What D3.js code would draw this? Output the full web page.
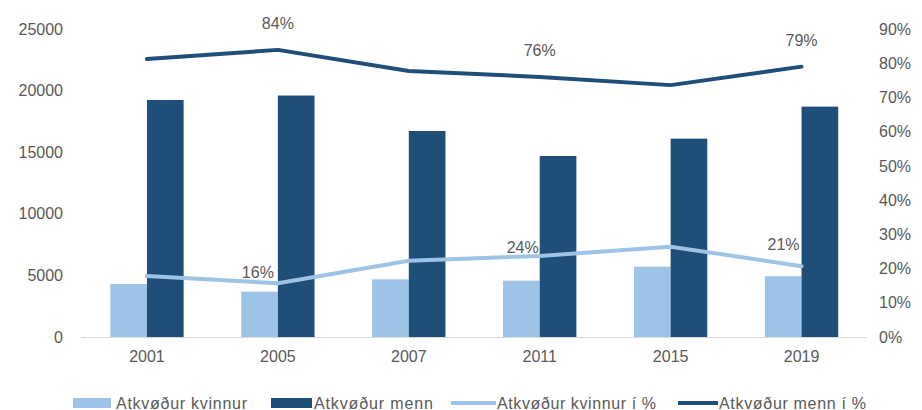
<!DOCTYPE html>
<html><head><meta charset="utf-8">
<script src="https://cdn.jsdelivr.net/npm/d3@7"></script>
<style>
body{margin:0;background:#fff;}
text{font-family:"Liberation Sans",Arial,sans-serif;fill:#595959;}
</style></head>
<body><svg id="c" width="922" height="410"></svg>
<script>
const years = ["2001","2005","2007","2011","2015","2019"];
const womenVotes = [4300, 3680, 4680, 4570, 5710, 4930];
const menVotes = [19240, 19600, 16720, 14690, 16100, 18700];
const womenPct = [0.178, 0.157, 0.223, 0.237, 0.264, 0.207];
const menPct = [0.812, 0.839, 0.777, 0.760, 0.736, 0.790];
const womenPctLabels = ["", "16%", "", "24%", "", "21%"];
const menPctLabels = ["", "84%", "", "76%", "", "79%"];
const leftTicks = [0, 5000, 10000, 15000, 20000, 25000];
const rightTicks = [0,0.1,0.2,0.3,0.4,0.5,0.6,0.7,0.8,0.9];
const seriesNames = ["Atkvøður kvinnur","Atkvøður menn","Atkvøður kvinnur í %","Atkvøður menn í %"];

const light = "#9dc3e6", dark = "#1f4e79";
const svg = d3.select("#c");
const x = d3.scaleBand().domain(years).range([81.5, 867]).padding(0);
const yL = d3.scaleLinear().domain([0, 25000]).range([337, 29]);
const yR = d3.scaleLinear().domain([0, 0.9]).range([337, 29]);
const bw = x.bandwidth() * 0.28;
const cx = d => x(d) + x.bandwidth() / 2;

// left axis labels
const axL = d3.axisLeft(yL).tickValues(leftTicks).tickSize(0).tickPadding(0).tickFormat(d3.format("d"));
const gL = svg.append("g").attr("transform","translate(63,0)").call(axL);
gL.select(".domain").remove();
gL.selectAll("text").attr("font-size",16).attr("font-family",null).attr("fill","#595959");

// right axis labels
const axR = d3.axisRight(yR).tickValues(rightTicks).tickSize(0).tickPadding(0).tickFormat(d3.format(".0%"));
const gR = svg.append("g").attr("transform","translate(879,0)").call(axR);
gR.select(".domain").remove();
gR.selectAll("text").attr("font-size",16).attr("font-family",null).attr("fill","#595959");

// bars
svg.append("g").selectAll("rect").data(years).join("rect")
  .attr("x", d => cx(d) - bw).attr("width", bw)
  .attr("y", (d,i) => yL(womenVotes[i])).attr("height", (d,i) => yL(0) - yL(womenVotes[i]))
  .attr("fill", light);
svg.append("g").selectAll("rect").data(years).join("rect")
  .attr("x", d => cx(d)).attr("width", bw)
  .attr("y", (d,i) => yL(menVotes[i])).attr("height", (d,i) => yL(0) - yL(menVotes[i]))
  .attr("fill", dark);

// bottom axis
const axB = d3.axisBottom(x).tickSize(0).tickPadding(14);
const gB = svg.append("g").attr("transform","translate(0,337)").call(axB);
gB.select(".domain").attr("stroke","#d9d9d9").attr("stroke-width",1).attr("d","M81.5,0.5H867");
gB.selectAll("text").attr("font-size",16).attr("font-family",null).attr("fill","#595959");

// lines
const line = (arr) => d3.line().x((d,i) => cx(years[i])).y(d => yR(d))(arr);
svg.append("path").attr("d", line(womenPct)).attr("fill","none").attr("stroke",light)
  .attr("stroke-width",4).attr("stroke-linejoin","round").attr("stroke-linecap","round");
svg.append("path").attr("d", line(menPct)).attr("fill","none").attr("stroke",dark)
  .attr("stroke-width",4).attr("stroke-linejoin","round").attr("stroke-linecap","round");

// data labels
const menOff = {dx:0, dy:-21};
const womenOff = [null,{dx:-20,dy:-5},null,{dx:-17,dy:-3},null,{dx:-18,dy:-16}];
svg.append("g").selectAll("text").data(years).join("text")
  .attr("x", d => cx(d) + menOff.dx).attr("y", (d,i) => yR(menPct[i]) + menOff.dy)
  .attr("text-anchor","middle").attr("font-size",16).text((d,i) => menPctLabels[i]);
svg.append("g").selectAll("text").data(years).join("text")
  .attr("x", (d,i) => cx(d) + (womenOff[i] ? womenOff[i].dx : 0))
  .attr("y", (d,i) => yR(womenPct[i]) + (womenOff[i] ? womenOff[i].dy : 0))
  .attr("text-anchor","middle").attr("font-size",16).text((d,i) => womenPctLabels[i]);

// legend
const lg = svg.append("g");
const items = [
  {type:"rect", color:light, x0:73, x1:111, tx:116, w:131},
  {type:"rect", color:dark, x0:271, x1:312, tx:314, w:119},
  {type:"line", color:light, x0:451, x1:496, tx:497, w:159},
  {type:"line", color:dark, x0:678, x1:718, tx:719, w:147}
];
items.forEach((it,i) => {
  if (it.type === "rect") {
    lg.append("rect").attr("x", it.x0).attr("y", 398).attr("width", it.x1 - it.x0).attr("height", 10).attr("fill", it.color);
  } else {
    lg.append("line").attr("x1", it.x0).attr("x2", it.x1).attr("y1", 403).attr("y2", 403)
      .attr("stroke", it.color).attr("stroke-width", 4);
  }
  lg.append("text").attr("x", it.tx).attr("y", 408.5).attr("font-size", 16)
    .attr("textLength", it.w).attr("lengthAdjust", "spacing").text(seriesNames[i]);
});
</script></body></html>
